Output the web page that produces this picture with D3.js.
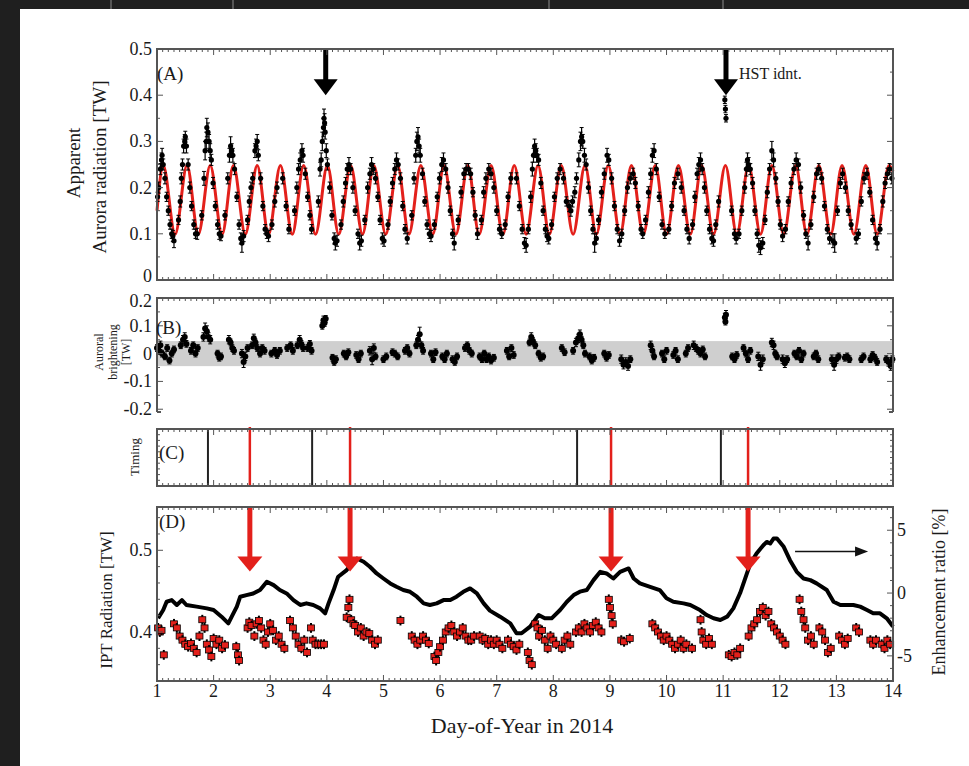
<!DOCTYPE html>
<html><head><meta charset="utf-8">
<script src="https://cdn.jsdelivr.net/npm/d3@7"></script>
<style>body{margin:0;background:#fff}svg{display:block}</style>
</head><body>
<svg id="c" width="969" height="766"></svg>
<script>
// ---------------- DATA ----------------
const dayTicks = [1,2,3,4,5,6,7,8,9,10,11,12,13,14];
const auroraTicks = [0,0.1,0.2,0.3,0.4,0.5];
const brightTicks = [-0.2,-0.1,0,0.1,0.2];
const iptTicks = [0.4,0.5];
const ratioTicks = [-5,0,5];

// fitted model (red), read at its extrema [day, TW]
const auroraModel = [[1.0,0.15],[1.11,0.248],[1.32,0.099],[1.53,0.248],[1.73,0.099],[1.94,0.248],[2.15,0.099],[2.35,0.248],[2.56,0.099],[2.77,0.248],[2.97,0.099],[3.18,0.248],[3.39,0.099],[3.59,0.248],[3.80,0.099],[4.01,0.248],[4.21,0.099],[4.42,0.248],[4.63,0.099],[4.83,0.248],[5.04,0.099],[5.25,0.248],[5.45,0.099],[5.66,0.248],[5.87,0.099],[6.07,0.248],[6.28,0.099],[6.49,0.248],[6.69,0.099],[6.90,0.248],[7.11,0.099],[7.31,0.248],[7.52,0.099],[7.73,0.248],[7.93,0.099],[8.14,0.248],[8.35,0.099],[8.56,0.248],[8.76,0.099],[8.97,0.248],[9.18,0.099],[9.38,0.248],[9.59,0.099],[9.80,0.248],[10.00,0.099],[10.21,0.248],[10.42,0.099],[10.62,0.248],[10.83,0.099],[11.04,0.248],[11.24,0.099],[11.45,0.248],[11.66,0.099],[11.86,0.248],[12.07,0.099],[12.28,0.248],[12.48,0.099],[12.69,0.248],[12.90,0.099],[13.10,0.248],[13.31,0.099],[13.52,0.248],[13.72,0.099],[13.93,0.248],[14.0,0.235]];

// apparent aurora radiation [day, TW, err]
const auroraPts = [
[1.01,0.18,0.01],[1.03,0.2,0.012],[1.06,0.24,0.012],[1.08,0.26,0.015],[1.09,0.27,0.015],[1.11,0.25,0.012],[1.14,0.22,0.012],[1.17,0.18,0.01],[1.2,0.15,0.01],[1.23,0.12,0.01],[1.26,0.1,0.01],[1.28,0.095,0.012],[1.3,0.085,0.015],
[1.38,0.13,0.01],[1.41,0.17,0.012],[1.43,0.22,0.012],[1.45,0.25,0.012],[1.47,0.29,0.015],[1.49,0.3,0.015],[1.5,0.31,0.012],[1.52,0.29,0.015],[1.55,0.25,0.012],[1.58,0.2,0.012],[1.61,0.16,0.01],[1.65,0.12,0.01],[1.68,0.1,0.01],[1.71,0.1,0.012],
[1.79,0.14,0.01],[1.83,0.22,0.015],[1.85,0.28,0.02],[1.87,0.3,0.02],[1.88,0.33,0.02],[1.9,0.32,0.02],[1.92,0.3,0.015],[1.94,0.28,0.015],[1.96,0.26,0.012],[1.99,0.21,0.012],[2.03,0.16,0.01],[2.07,0.12,0.01],[2.1,0.1,0.012],[2.13,0.095,0.01],
[2.2,0.14,0.01],[2.25,0.22,0.012],[2.28,0.27,0.015],[2.3,0.29,0.02],[2.32,0.28,0.015],[2.34,0.27,0.015],[2.37,0.24,0.012],[2.41,0.18,0.01],[2.45,0.12,0.01],[2.48,0.09,0.012],[2.5,0.08,0.02],[2.53,0.095,0.012],
[2.6,0.13,0.01],[2.63,0.17,0.012],[2.66,0.2,0.012],[2.69,0.22,0.012],[2.73,0.28,0.015],[2.75,0.29,0.015],[2.77,0.3,0.015],[2.79,0.27,0.012],[2.83,0.22,0.012],[2.87,0.16,0.01],[2.91,0.11,0.01],[2.94,0.1,0.01],[2.97,0.095,0.012],
[3.03,0.12,0.01],[3.08,0.17,0.012],[3.12,0.2,0.012],[3.22,0.22,0.012],[3.28,0.16,0.01],[3.33,0.11,0.01],
[3.43,0.15,0.01],[3.47,0.2,0.012],[3.5,0.24,0.012],[3.53,0.26,0.015],[3.56,0.28,0.015],[3.58,0.27,0.015],[3.62,0.23,0.012],[3.66,0.18,0.01],[3.7,0.14,0.01],[3.73,0.11,0.01],
[3.85,0.17,0.012],[3.88,0.24,0.015],[3.9,0.26,0.015],[3.92,0.3,0.02],[3.94,0.33,0.02],[3.95,0.35,0.02],[3.96,0.34,0.02],[3.97,0.32,0.015],[3.99,0.28,0.015],[4.01,0.25,0.012],[4.05,0.2,0.012],[4.09,0.14,0.01],[4.13,0.09,0.012],[4.15,0.08,0.015],[4.18,0.085,0.012],
[4.25,0.12,0.01],[4.29,0.17,0.012],[4.33,0.21,0.012],[4.36,0.24,0.012],[4.39,0.25,0.015],[4.42,0.24,0.012],[4.46,0.2,0.012],[4.5,0.15,0.01],[4.55,0.1,0.01],[4.58,0.08,0.015],[4.61,0.085,0.012],
[4.67,0.13,0.01],[4.72,0.2,0.012],[4.76,0.23,0.012],[4.79,0.25,0.015],[4.82,0.24,0.012],[4.86,0.22,0.012],[4.9,0.18,0.01],[4.94,0.13,0.01],[4.98,0.09,0.012],[5.01,0.085,0.012],
[5.08,0.12,0.01],[5.12,0.17,0.01],[5.16,0.21,0.012],[5.2,0.24,0.012],[5.23,0.26,0.015],[5.26,0.25,0.012],[5.3,0.22,0.012],[5.34,0.16,0.01],[5.38,0.11,0.01],[5.42,0.09,0.012],
[5.5,0.14,0.01],[5.54,0.22,0.012],[5.57,0.27,0.015],[5.59,0.3,0.02],[5.61,0.31,0.02],[5.63,0.29,0.015],[5.65,0.27,0.015],[5.69,0.23,0.012],[5.73,0.17,0.01],[5.77,0.12,0.01],[5.81,0.1,0.01],[5.84,0.095,0.012],
[5.9,0.12,0.01],[5.95,0.18,0.01],[5.99,0.22,0.012],[6.03,0.25,0.015],[6.06,0.26,0.015],[6.1,0.24,0.012],[6.14,0.2,0.012],[6.18,0.15,0.01],[6.22,0.1,0.01],[6.25,0.08,0.015],
[6.32,0.13,0.01],[6.37,0.19,0.012],[6.42,0.23,0.012],[6.46,0.24,0.012],[6.5,0.24,0.012],[6.54,0.23,0.012],[6.58,0.19,0.01],[6.62,0.14,0.01],[6.66,0.1,0.012],
[6.73,0.13,0.01],[6.77,0.19,0.012],[6.81,0.22,0.012],[6.86,0.24,0.012],[6.9,0.23,0.012],[6.95,0.2,0.012],[7.0,0.15,0.01],[7.05,0.11,0.01],[7.09,0.1,0.01],
[7.15,0.12,0.01],[7.2,0.18,0.01],[7.25,0.22,0.012],[7.35,0.22,0.012],[7.4,0.16,0.01],[7.45,0.11,0.01],[7.49,0.08,0.012],[7.52,0.075,0.015],
[7.56,0.11,0.01],[7.6,0.18,0.012],[7.63,0.24,0.015],[7.65,0.27,0.015],[7.67,0.29,0.015],[7.69,0.28,0.015],[7.71,0.27,0.015],[7.74,0.26,0.012],[7.78,0.21,0.012],[7.82,0.15,0.01],[7.86,0.11,0.01],[7.89,0.095,0.012],[7.92,0.09,0.012],
[7.97,0.12,0.01],[8.02,0.18,0.01],[8.07,0.22,0.012],[8.12,0.24,0.012],[8.18,0.22,0.012],[8.23,0.17,0.01],[8.28,0.16,0.012],[8.31,0.15,0.012],[8.34,0.17,0.012],
[8.38,0.19,0.012],[8.41,0.22,0.012],[8.45,0.26,0.015],[8.48,0.3,0.02],[8.5,0.31,0.02],[8.52,0.3,0.015],[8.55,0.27,0.015],[8.58,0.25,0.012],[8.62,0.2,0.012],[8.66,0.15,0.01],[8.7,0.11,0.01],[8.73,0.08,0.02],[8.76,0.09,0.012],
[8.8,0.13,0.01],[8.85,0.19,0.012],[8.9,0.23,0.012],[8.95,0.27,0.015],[8.98,0.26,0.012],[9.03,0.22,0.012],[9.08,0.16,0.01],[9.13,0.11,0.01],[9.17,0.085,0.012],
[9.21,0.1,0.01],[9.26,0.15,0.01],[9.31,0.2,0.012],[9.36,0.22,0.012],[9.41,0.23,0.012],[9.45,0.21,0.012],[9.5,0.16,0.01],[9.55,0.11,0.01],[9.58,0.1,0.01],
[9.63,0.13,0.01],[9.68,0.19,0.012],[9.72,0.23,0.012],[9.75,0.27,0.015],[9.78,0.28,0.015],[9.82,0.24,0.012],[9.87,0.18,0.01],[9.92,0.12,0.01],[9.97,0.1,0.01],
[10.04,0.11,0.01],[10.09,0.16,0.01],[10.14,0.21,0.012],[10.2,0.23,0.012],[10.26,0.2,0.012],[10.31,0.15,0.01],[10.36,0.11,0.01],[10.4,0.09,0.012],
[10.46,0.12,0.01],[10.5,0.18,0.012],[10.54,0.23,0.012],[10.57,0.25,0.015],[10.6,0.26,0.015],[10.63,0.24,0.012],[10.67,0.2,0.012],[10.71,0.15,0.01],[10.76,0.11,0.01],[10.8,0.09,0.012],[10.83,0.085,0.012],
[10.87,0.12,0.01],[10.92,0.17,0.012],[11.03,0.39,0.008],[11.04,0.37,0.008],[11.05,0.35,0.008],[11.15,0.15,0.01],[11.2,0.1,0.01],[11.23,0.09,0.012],
[11.28,0.1,0.01],[11.33,0.15,0.01],[11.38,0.2,0.012],[11.41,0.24,0.015],[11.43,0.26,0.015],[11.45,0.25,0.015],[11.48,0.24,0.012],[11.52,0.21,0.012],[11.56,0.15,0.01],[11.6,0.1,0.01],[11.63,0.075,0.015],[11.66,0.07,0.015],
[11.7,0.08,0.012],[11.74,0.13,0.01],[11.78,0.19,0.012],[11.82,0.24,0.012],[11.86,0.28,0.02],[11.89,0.26,0.015],[11.93,0.22,0.012],[11.97,0.17,0.01],[12.01,0.12,0.01],[12.05,0.095,0.012],
[12.1,0.11,0.01],[12.15,0.17,0.01],[12.2,0.21,0.012],[12.25,0.24,0.012],[12.29,0.26,0.015],[12.33,0.25,0.012],[12.37,0.2,0.012],[12.42,0.14,0.01],[12.46,0.1,0.01],[12.5,0.08,0.015],
[12.55,0.12,0.01],[12.6,0.18,0.012],[12.65,0.23,0.012],[12.69,0.24,0.012],[12.74,0.22,0.012],[12.79,0.16,0.01],[12.84,0.11,0.01],[12.88,0.09,0.012],
[12.94,0.085,0.015],[12.97,0.08,0.02],[13.02,0.15,0.01],[13.07,0.21,0.012],[13.11,0.23,0.012],[13.16,0.2,0.012],[13.21,0.15,0.01],[13.26,0.12,0.01],
[13.35,0.09,0.012],[13.39,0.1,0.01],[13.44,0.17,0.01],[13.49,0.22,0.012],[13.54,0.23,0.012],[13.59,0.19,0.01],[13.64,0.13,0.01],[13.69,0.09,0.012],[13.72,0.08,0.015],
[13.77,0.11,0.01],[13.82,0.17,0.012],[13.86,0.21,0.012],[13.9,0.23,0.012],[13.94,0.24,0.012],[13.98,0.22,0.012]
];

// auroral brightening residual [day, TW, err]
const brightPts = [
[1.0,0.02,0.012],[1.03,0.01,0.012],[1.06,0.03,0.015],[1.09,0.0,0.012],[1.14,-0.01,0.012],[1.18,0.02,0.012],[1.22,-0.025,0.012],[1.26,0.0,0.012],[1.3,0.015,0.012],
[1.42,0.03,0.012],[1.46,0.05,0.015],[1.49,0.06,0.015],[1.52,0.035,0.012],
[1.6,0.01,0.012],[1.64,0.03,0.012],[1.68,0.0,0.012],[1.72,0.02,0.012],
[1.82,0.06,0.015],[1.85,0.09,0.02],[1.88,0.08,0.02],[1.91,0.06,0.015],[1.94,0.05,0.015],
[2.07,0.0,0.012],[2.1,-0.015,0.012],[2.13,-0.01,0.012],
[2.27,0.05,0.015],[2.3,0.04,0.012],[2.33,0.02,0.012],[2.36,0.01,0.012],
[2.5,0.0,0.015],[2.53,-0.03,0.02],[2.56,-0.01,0.015],[2.6,0.02,0.012],
[2.68,0.03,0.012],[2.71,0.055,0.015],[2.74,0.04,0.012],[2.77,0.02,0.012],
[2.82,0.0,0.012],[2.86,0.02,0.012],[2.9,0.01,0.012],
[3.02,0.0,0.012],[3.08,0.01,0.012],[3.12,-0.005,0.012],[3.17,0.01,0.012],
[3.3,0.02,0.012],[3.36,0.03,0.012],[3.4,0.01,0.012],
[3.48,0.03,0.012],[3.52,0.05,0.015],[3.55,0.035,0.012],[3.58,0.02,0.012],
[3.66,0.02,0.012],[3.7,0.035,0.012],[3.73,0.01,0.012],
[3.92,0.1,0.012],[3.94,0.12,0.015],[3.96,0.11,0.012],[3.98,0.125,0.012],
[4.1,-0.015,0.012],[4.13,-0.03,0.012],[4.16,-0.02,0.012],
[4.3,0.0,0.012],[4.34,-0.01,0.012],[4.38,0.005,0.012],
[4.52,-0.005,0.012],[4.56,-0.02,0.012],[4.6,0.0,0.012],
[4.76,0.01,0.015],[4.8,-0.02,0.02],[4.83,0.02,0.015],[4.86,-0.01,0.012],
[5.0,-0.02,0.012],[5.05,-0.01,0.012],
[5.16,0.005,0.012],[5.2,0.0,0.012],[5.25,-0.01,0.012],
[5.38,0.01,0.012],[5.42,0.02,0.012],[5.46,0.0,0.012],
[5.58,0.03,0.012],[5.61,0.05,0.015],[5.64,0.07,0.025],[5.67,0.03,0.012],[5.7,0.01,0.012],
[5.84,0.0,0.012],[5.88,-0.02,0.012],[5.92,0.005,0.012],
[6.04,-0.01,0.012],[6.08,-0.02,0.012],[6.12,0.0,0.012],
[6.22,-0.02,0.012],[6.26,-0.03,0.012],[6.3,-0.01,0.012],
[6.44,0.02,0.012],[6.48,0.03,0.012],[6.52,0.01,0.012],[6.56,0.0,0.012],
[6.7,-0.01,0.012],[6.74,-0.02,0.012],[6.78,0.0,0.012],[6.82,-0.02,0.012],[6.86,-0.01,0.012],[6.9,-0.025,0.012],[6.95,-0.015,0.012],
[7.18,0.01,0.012],[7.22,-0.01,0.012],[7.26,0.02,0.012],[7.3,-0.005,0.012],
[7.58,0.04,0.012],[7.61,0.06,0.015],[7.64,0.045,0.012],[7.68,0.03,0.012],
[7.74,0.0,0.012],[7.78,-0.015,0.012],[7.82,-0.01,0.012],
[8.15,0.02,0.012],[8.2,0.005,0.012],
[8.35,0.01,0.012],[8.4,0.04,0.015],[8.44,0.055,0.015],[8.47,0.07,0.015],[8.5,0.05,0.012],[8.53,0.03,0.012],[8.56,0.0,0.012],
[8.64,-0.01,0.012],[8.68,-0.025,0.012],[8.72,-0.015,0.012],
[8.9,0.0,0.012],[8.94,-0.015,0.012],[8.98,-0.005,0.012],
[9.2,-0.02,0.015],[9.24,-0.04,0.015],[9.28,-0.03,0.015],[9.32,-0.045,0.015],[9.36,-0.02,0.012],
[9.72,0.03,0.015],[9.75,0.01,0.015],[9.78,-0.01,0.012],
[9.92,0.0,0.012],[9.96,-0.02,0.012],[10.0,0.01,0.012],
[10.12,-0.005,0.012],[10.16,0.01,0.012],[10.2,-0.02,0.012],
[10.34,0.0,0.012],[10.38,0.02,0.012],
[10.48,0.03,0.015],[10.52,0.02,0.012],[10.56,0.01,0.012],[10.6,0.0,0.012],[10.64,0.015,0.012],[10.68,-0.01,0.012],
[11.03,0.13,0.015],[11.04,0.115,0.012],[11.05,0.14,0.015],
[11.16,-0.01,0.012],[11.2,-0.02,0.012],[11.24,-0.005,0.012],
[11.36,0.02,0.012],[11.4,0.0,0.012],[11.44,-0.02,0.012],[11.48,0.01,0.012],
[11.62,-0.01,0.015],[11.66,-0.04,0.02],[11.7,-0.02,0.015],
[11.86,0.04,0.015],[11.89,0.03,0.015],[11.92,0.0,0.012],[11.95,-0.01,0.012],
[12.05,-0.02,0.015],[12.09,-0.035,0.015],[12.13,-0.02,0.012],
[12.26,0.0,0.012],[12.3,-0.01,0.012],[12.34,0.01,0.012],[12.38,-0.02,0.012],[12.42,0.0,0.012],
[12.6,-0.01,0.012],[12.64,0.0,0.012],[12.68,-0.02,0.012],
[12.92,-0.02,0.015],[12.96,-0.04,0.02],[13.0,-0.02,0.015],[13.04,-0.01,0.012],
[13.15,-0.015,0.012],[13.19,-0.01,0.012],[13.23,-0.02,0.012],
[13.44,-0.02,0.012],[13.48,-0.01,0.012],
[13.6,-0.02,0.012],[13.64,-0.005,0.012],[13.68,-0.015,0.012],[13.72,-0.03,0.012],
[13.88,-0.02,0.012],[13.92,-0.03,0.015],[13.96,-0.045,0.015],[13.99,-0.02,0.012]
];
const brightBand = [-0.045, 0.045];

// timing of events [day]
const timingBlack = [1.90, 3.74, 8.42, 10.96];
const timingRed = [2.64, 4.41, 9.02, 11.44];
const auroraArrowDays = [3.98, 11.05];

// IPT radiation [day, TW]
const iptPts = [
[1.02,0.405],[1.05,0.4],[1.08,0.402],[1.12,0.372],[1.3,0.41],[1.35,0.405],[1.4,0.395],[1.45,0.39],[1.5,0.385],[1.55,0.382],[1.6,0.386],[1.65,0.38],[1.7,0.375],[1.75,0.395],[1.8,0.415],[1.84,0.405],[1.88,0.385],[1.92,0.378],[1.96,0.37],[2.0,0.392],[2.05,0.385],[2.1,0.39],[2.15,0.38],[2.2,0.384],[2.4,0.382],[2.43,0.372],[2.45,0.365],
[2.6,0.405],[2.63,0.412],[2.67,0.408],[2.72,0.395],[2.76,0.41],[2.8,0.414],[2.84,0.405],[2.88,0.39],[2.92,0.385],[2.96,0.4],[3.0,0.41],[3.05,0.402],[3.1,0.39],[3.15,0.395],[3.2,0.385],[3.25,0.38],[3.35,0.414],[3.4,0.405],[3.45,0.395],[3.5,0.385],[3.55,0.38],[3.6,0.39],[3.65,0.375],[3.72,0.405],[3.75,0.39],[3.8,0.385],[3.85,0.385],[3.9,0.385],[3.95,0.385],
[4.35,0.418],[4.38,0.43],[4.4,0.44],[4.43,0.415],[4.47,0.41],[4.5,0.408],[4.55,0.4],[4.6,0.405],[4.65,0.395],[4.7,0.4],[4.75,0.398],[4.8,0.39],[4.85,0.385],[4.9,0.39],[5.3,0.414],
[5.5,0.395],[5.55,0.39],[5.6,0.385],[5.65,0.39],[5.7,0.395],[5.75,0.39],[5.8,0.386],[5.9,0.37],[5.93,0.365],[5.97,0.375],[6.0,0.382],[6.05,0.39],[6.1,0.4],[6.15,0.405],[6.2,0.408],[6.25,0.4],[6.3,0.395],[6.35,0.4],[6.4,0.405],[6.45,0.395],[6.5,0.39],[6.55,0.39],[6.6,0.395],[6.7,0.395],[6.75,0.39],[6.8,0.392],[6.85,0.385],
[6.9,0.39],[6.95,0.385],[7.0,0.39],[7.05,0.385],[7.1,0.38],[7.2,0.39],[7.25,0.385],[7.3,0.382],[7.35,0.378],[7.4,0.385],[7.55,0.375],[7.58,0.365],[7.62,0.36],[7.68,0.41],[7.72,0.405],[7.75,0.395],[7.8,0.402],[7.85,0.39],[7.9,0.38],[7.95,0.395],[8.0,0.39],[8.05,0.385],
[8.15,0.38],[8.2,0.39],[8.25,0.395],[8.3,0.385],[8.4,0.4],[8.45,0.405],[8.5,0.4],[8.55,0.41],[8.6,0.405],[8.65,0.4],[8.7,0.408],[8.75,0.412],[8.8,0.405],[8.85,0.4],[8.98,0.44],[9.0,0.43],[9.03,0.42],[9.05,0.41],[9.2,0.39],[9.25,0.388],[9.35,0.392],
[9.75,0.41],[9.8,0.405],[9.85,0.4],[9.9,0.395],[9.95,0.39],[10.0,0.395],[10.05,0.39],[10.1,0.385],[10.15,0.38],[10.2,0.385],[10.25,0.39],[10.3,0.38],[10.35,0.385],[10.45,0.38],[10.6,0.415],[10.62,0.4],[10.65,0.39],[10.7,0.385],[10.75,0.392],[10.8,0.385],
[11.1,0.372],[11.15,0.37],[11.2,0.375],[11.25,0.372],[11.3,0.38],[11.45,0.395],[11.5,0.405],[11.55,0.41],[11.6,0.415],[11.65,0.425],[11.7,0.43],[11.75,0.42],[11.8,0.425],[11.85,0.41],[11.9,0.405],[11.95,0.4],[12.0,0.395],[12.05,0.39],[12.1,0.385],
[12.35,0.44],[12.38,0.425],[12.42,0.415],[12.45,0.405],[12.5,0.39],[12.55,0.395],[12.6,0.385],[12.7,0.405],[12.75,0.4],[12.8,0.39],[12.85,0.375],[12.9,0.38],[13.05,0.395],[13.1,0.39],[13.15,0.385],[13.2,0.392],[13.35,0.405],[13.4,0.4],[13.6,0.39],[13.65,0.385],[13.7,0.39],[13.8,0.385],[13.85,0.38],[13.9,0.39],[13.95,0.385]
];
const iptErr = 0.006;

// enhancement ratio [day, %]
const ratioLine = [
[1.02,-2.01],[1.11,-1.35],[1.17,-0.69],[1.26,-0.56],[1.35,-0.95],[1.44,-0.56],[1.52,-0.95],[1.70,-1.08],[1.88,-1.22],[2.0,-1.35],[2.14,-1.88],[2.26,-2.41],[2.32,-1.88],[2.41,-1.08],[2.47,-0.29],[2.58,-0.16],[2.70,-0.03],[2.82,0.24],[2.94,0.9],[3.06,0.63],[3.17,0.24],[3.29,-0.03],[3.41,-0.56],[3.53,-0.95],[3.64,-0.82],[3.76,-0.95],[3.88,-1.22],[3.97,-1.61],[4.03,-0.82],[4.12,0.24],[4.2,1.3],[4.35,1.83],[4.47,2.49],[4.53,2.75],[4.65,2.49],[4.76,2.09],[4.88,1.56],[5.0,1.16],[5.12,0.77],[5.23,0.5],[5.35,0.24],[5.47,0.1],[5.59,-0.29],[5.71,-0.82],[5.82,-0.95],[5.94,-0.82],[6.06,-0.56],[6.18,-0.56],[6.29,-0.29],[6.41,0.1],[6.53,0.37],[6.65,-0.03],[6.77,-0.82],[6.88,-1.4],[7.06,-1.88],[7.24,-2.41],[7.35,-3.2],[7.44,-3.2],[7.59,-2.67],[7.74,-1.75],[7.85,-2.01],[7.97,-2.01],[8.12,-1.35],[8.24,-0.69],[8.36,-0.16],[8.47,0.11],[8.59,0.24],[8.71,1.03],[8.83,1.69],[8.94,1.56],[9.06,1.16],[9.18,1.69],[9.33,1.96],[9.42,1.16],[9.53,0.77],[9.71,0.5],[9.88,0.24],[10.0,-0.42],[10.12,-0.69],[10.3,-0.82],[10.42,-0.95],[10.59,-1.35],[10.71,-1.75],[10.83,-2.01],[10.95,-2.14],[11.07,-1.88],[11.18,-1.22],[11.3,0.0],[11.42,1.56],[11.48,2.35],[11.59,3.15],[11.71,3.81],[11.77,4.07],[11.83,3.94],[11.89,4.34],[11.95,4.34],[12.07,3.68],[12.18,2.62],[12.3,1.69],[12.42,1.16],[12.54,1.03],[12.65,0.77],[12.83,0.24],[12.95,-0.69],[13.07,-0.95],[13.19,-0.95],[13.3,-0.95],[13.42,-1.08],[13.54,-1.35],[13.65,-1.61],[13.77,-1.61],[13.89,-2.01],[14.0,-2.67]
];
const ratioArrow = [[12.27,3.3],[13.56,3.3]];

// ---------------- DRAW ----------------
const svg = d3.select("#c");
const FONT = "'Liberation Serif','DejaVu Serif',serif";
const INK = "#1a1a1a", FRAME = "#555";

svg.append("rect").attr("width",969).attr("height",766).attr("fill","#1f1f1f");
svg.append("rect").attr("x",20).attr("y",9).attr("width",949).attr("height",757).attr("fill","#fff");
svg.selectAll(".sep").data([111,233,549,723]).enter().append("line")
  .attr("x1",d=>d).attr("x2",d=>d).attr("y1",0).attr("y2",9).attr("stroke","#555").attr("stroke-width",2);

const x = d3.scaleLinear().domain([1,14]).range([157,893]);
const yA = d3.scaleLinear().domain([0,0.5]).range([280,49]);
const yB = d3.scaleLinear().domain([-0.21,0.2]).range([412,298]);
const yC = [429,486];
const yDl = d3.scaleLinear().domain([0.34,0.553]).range([681,507]);
const yDr = d3.scaleLinear().domain([-7,6.85]).range([681,507]);

const minorDays = d3.range(1,14.0001,0.1);

function xTicks(top, bottom){
  const g = svg.append("g").attr("stroke",FRAME).attr("stroke-width",1);
  minorDays.forEach(d=>{
    const major = Math.abs(d-Math.round(d))<1e-6;
    const L = major?6:3;
    g.append("line").attr("x1",x(d)).attr("x2",x(d)).attr("y1",top).attr("y2",top+L);
    if(bottom!==null) g.append("line").attr("x1",x(d)).attr("x2",x(d)).attr("y1",bottom).attr("y2",bottom-L);
  });
}
function yTicks(scale, majors, minorStep, left=true, right=true){
  const g = svg.append("g").attr("stroke",FRAME).attr("stroke-width",1);
  const [d0,d1] = scale.domain();
  const minors = d3.range(Math.ceil(d0/minorStep)*minorStep, d1+1e-9, minorStep);
  minors.forEach(v=>{
    const isMaj = majors.some(m=>Math.abs(m-v)<1e-6);
    const L = isMaj?6:3;
    if(left) g.append("line").attr("x1",x(1)).attr("x2",x(1)+L).attr("y1",scale(v)).attr("y2",scale(v));
    if(right) g.append("line").attr("x1",x(14)).attr("x2",x(14)-L).attr("y1",scale(v)).attr("y2",scale(v));
  });
}
function frame(top,bottom,noBottom){
  if(noBottom){
    svg.append("path").attr("d",`M${x(1)},${bottom}V${top}H${x(14)}V${bottom}`)
      .attr("fill","none").attr("stroke",FRAME).attr("stroke-width",2);
    svg.append("path").attr("d",`M${x(1)},${bottom}h4M${x(14)},${bottom}h-4`).attr("stroke",FRAME).attr("stroke-width",2);
  } else {
    svg.append("rect").attr("x",x(1)).attr("y",top).attr("width",x(14)-x(1)).attr("height",bottom-top)
      .attr("fill","none").attr("stroke",FRAME).attr("stroke-width",2);
  }
}
function label(txt, xx, yy, size, anchor="start", rot=0){
  const t = svg.append("text").attr("font-family",FONT).attr("font-size",size).attr("fill",INK)
    .attr("text-anchor",anchor).text(txt);
  if(rot) t.attr("transform",`translate(${xx},${yy}) rotate(${rot})`);
  else t.attr("x",xx).attr("y",yy);
  return t;
}
function errPts(g, pts, ys, r, clipTop, clipBot){
  pts.forEach(p=>{
    const cx = x(p[0]);
    const y1 = Math.max(clipTop, ys(p[1]+p[2])), y2 = Math.min(clipBot, ys(p[1]-p[2]));
    g.append("line").attr("x1",cx).attr("x2",cx).attr("y1",y1).attr("y2",y2).attr("stroke","#000").attr("stroke-width",1.2);
    g.append("line").attr("x1",cx-2).attr("x2",cx+2).attr("y1",y1).attr("y2",y1).attr("stroke","#000").attr("stroke-width",1);
    g.append("line").attr("x1",cx-2).attr("x2",cx+2).attr("y1",y2).attr("y2",y2).attr("stroke","#000").attr("stroke-width",1);
    g.append("circle").attr("cx",cx).attr("cy",ys(p[1])).attr("r",r).attr("fill","#000");
  });
}
function downArrow(g, xx, yTop, yTip, color, shaftW, headW, headH){
  g.append("rect").attr("x",xx-shaftW/2).attr("y",yTop).attr("width",shaftW).attr("height",yTip-yTop-headH+1).attr("fill",color);
  g.append("path").attr("d",`M${xx-headW/2},${yTip-headH}L${xx+headW/2},${yTip-headH}L${xx},${yTip}Z`).attr("fill",color);
}

// ---------- Panel A ----------
const gA = svg.append("g");
const modelLine = d3.line().x(d=>x(d[0])).y(d=>yA(d[1])).curve(d3.curveMonotoneX);
gA.append("path").attr("d",modelLine(auroraModel)).attr("fill","none").attr("stroke","#e3201b").attr("stroke-width",3);
errPts(gA, auroraPts, yA, 2.6, yA(0.5), yA(0));
frame(yA(0.5), yA(0));
xTicks(yA(0.5), yA(0));
yTicks(yA, auroraTicks, 0.05);
auroraArrowDays.forEach(d=>downArrow(gA, x(d), yA(0.5)+1, yA(0.4), "#000", 5, 24, 16));
// the "0" at the bottom sits a little higher so it clears panel B's "0.2"
auroraTicks.forEach(v=>label(v===0?"0":d3.format(".1f")(v), 152, yA(v)+(v===0?2:6), 18, "end"));
label("(A)", 157, 80, 19);
label("HST idnt.", x(11.05)+13, 79, 16);
label("Apparent", 80, 163, 19, "middle", -90);
label("Aurora radiation [TW]", 106, 167, 19, "middle", -90);

// ---------- Panel B ----------
const gB = svg.append("g");
gB.append("rect").attr("x",x(1)).attr("width",x(14)-x(1)).attr("y",yB(brightBand[1])).attr("height",yB(brightBand[0])-yB(brightBand[1])).attr("fill","#cfcfcf");
errPts(gB, brightPts, yB, 3, yB(0.2), yB(-0.21));
frame(yB(0.2), yB(-0.21), true);
xTicks(yB(0.2), null);
yTicks(yB, brightTicks, 0.05);
brightTicks.forEach(v=>label(v===0?"0":d3.format(".1f")(v).replace("\u2212","-"), 152, yB(v)+(v===0.2?9:6), 18, "end"));
label("(B)", 156, 334, 19);
label("Auroral", 103, 352, 12, "middle", -90);
label("brightening", 117, 352, 12, "middle", -90);
label("[TW]", 130, 352, 12, "middle", -90);

// ---------- Panel C ----------
const gC = svg.append("g");
timingBlack.forEach(d=>gC.append("line").attr("x1",x(d)).attr("x2",x(d)).attr("y1",yC[0]).attr("y2",yC[1]).attr("stroke","#222").attr("stroke-width",2));
timingRed.forEach(d=>gC.append("line").attr("x1",x(d)).attr("x2",x(d)).attr("y1",yC[0]-2).attr("y2",yC[1]).attr("stroke","#e3201b").attr("stroke-width",2.5));
frame(yC[0], yC[1]);
xTicks(yC[0], yC[1]);
{
  const g = svg.append("g").attr("stroke",FRAME).attr("stroke-width",1);
  const yc = d3.scaleLinear().domain([0,1]).range([yC[1],yC[0]]);
  d3.range(0,1.0001,0.1).forEach(v=>{
    g.append("line").attr("x1",x(1)).attr("x2",x(1)+3).attr("y1",yc(v)).attr("y2",yc(v));
    g.append("line").attr("x1",x(14)).attr("x2",x(14)-3).attr("y1",yc(v)).attr("y2",yc(v));
  });
}
label("(C)", 159, 459, 19);
label("Timing", 139, 457, 13, "middle", -90);

// ---------- Panel D ----------
const gD = svg.append("g");
const ratioPath = d3.line().x(d=>x(d[0])).y(d=>yDr(d[1]));
gD.append("path").attr("d",ratioPath(ratioLine)).attr("fill","none").attr("stroke","#000").attr("stroke-width",4).attr("stroke-linejoin","round");
iptPts.forEach(p=>{
  const cx=x(p[0]);
  gD.append("line").attr("x1",cx).attr("x2",cx).attr("y1",yDl(p[1]+iptErr)).attr("y2",yDl(p[1]-iptErr)).attr("stroke","#000").attr("stroke-width",2);
  gD.append("rect").attr("x",cx-3.5).attr("y",yDl(p[1])-3).attr("width",7).attr("height",6).attr("fill","#e3201b").attr("stroke","#000").attr("stroke-width",0.8);
});
timingRed.forEach(d=>downArrow(gD, x(d), yDl(0.553)+1, yDl(0.474), "#e3201b", 5, 25, 15));
{
  const a0 = ratioArrow[0], a1 = ratioArrow[1];
  gD.append("line").attr("x1",x(a0[0])).attr("x2",x(a1[0])-10).attr("y1",yDr(a0[1])).attr("y2",yDr(a1[1])).attr("stroke","#111").attr("stroke-width",1.5);
  gD.append("path").attr("d",`M${x(a1[0])},${yDr(a1[1])}l-13,-5v10Z`).attr("fill","#111");
}
frame(yDl(0.553), yDl(0.34));
xTicks(yDl(0.553), yDl(0.34));
yTicks(yDl, iptTicks, 0.02, true, false);
yTicks(yDr, ratioTicks, 1, false, true);
iptTicks.forEach(v=>label(d3.format(".1f")(v), 152, yDl(v)+6, 18, "end"));
ratioTicks.forEach(v=>label(v<0?"-"+Math.abs(v):String(v), 897, yDr(v)+6, 18, "start"));
label("(D)", 159, 528, 19);
label("IPT Radiation [TW]", 112, 600, 17, "middle", -90);
label("Enhancement ratio [%]", 945, 592, 18, "middle", -90);
dayTicks.forEach(d=>label(String(d), x(d), 697, 18, "middle"));
label("Day-of-Year in 2014", 522, 733, 22, "middle");
</script>
</body></html>
